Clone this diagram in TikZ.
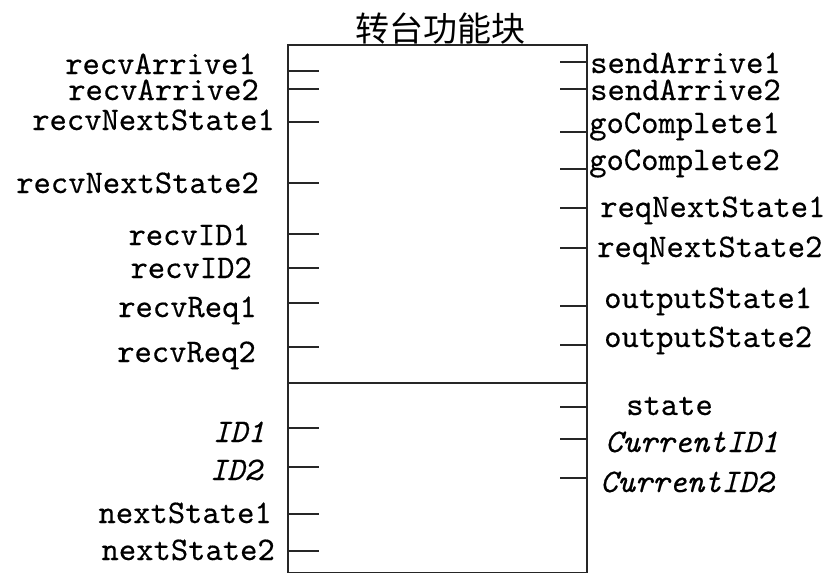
\documentclass[tikz,border=0pt]{standalone}
\usepackage{fontspec}
\newfontfamily\cjkfont{Noto Sans CJK SC}
\newfontfamily\pinfam{lmmono10-regular.otf}[ItalicFont=lmmono10-italic.otf, FakeBold=0.35]
\newcommand\pinfont{\pinfam\fontsize{33pt}{35pt}\selectfont}
\begin{document}
\begin{tikzpicture}[x=1pt,y=-1pt,
  pinlabel/.style={font=\pinfont, inner sep=0pt},
  lpin/.style={pinlabel, anchor=base east},
  rpin/.style={pinlabel, anchor=base west},
  boxline/.style={line width=1.8pt, draw=black!85},
  tick/.style={line width=1.7pt, draw=black!85}]
\useasboundingbox (0,0) rectangle (834,574);
% block
\coordinate (tl) at (288,45);
\coordinate (br) at (587,572.5);
\draw[boxline] (tl) rectangle (br);
\coordinate (dl) at (288,383);
\coordinate (dr) at (587,383);
\draw[boxline] (dl) -- (dr);
\node[font=\cjkfont\fontsize{34pt}{36pt}\selectfont, inner sep=0pt, anchor=base] (title) at (440,41) {转台功能块};
% left inputs
\foreach \nm/\txt/\bx/\by/\ty in {
  la1/recvArrive1/256/74/71,
  la2/recvArrive2/259/100/89,
  ln1/recvNextState1/275/130/122,
  ln2/recvNextState2/259/193/183,
  li1/recvID1/250/245/234,
  li2/recvID2/252/278/268,
  lr1/recvReq1/257/317/303,
  lr2/recvReq2/256/362/347,
  ns1/nextState1/272/523/514,
  ns2/nextState2/275/560/551}{
  \node[lpin] (\nm) at (\bx,\by) {\txt};
  \coordinate (\nm a) at (288,\ty);
  \coordinate (\nm b) at (319,\ty);
  \draw[tick] (\nm a) -- (\nm b);
}
\foreach \nm/\txt/\bx/\by/\ty in {
  id1/ID1/265/442/428,
  id2/ID2/262/480/467}{
  \node[lpin, font=\pinfont\itshape] (\nm) at (\bx,\by) {\txt};
  \coordinate (\nm a) at (288,\ty);
  \coordinate (\nm b) at (319,\ty);
  \draw[tick] (\nm a) -- (\nm b);
}
% right outputs
\foreach \nm/\txt/\bx/\by/\ty in {
  sa1/sendArrive1/590/73/62,
  sa2/sendArrive2/590/100/89,
  gc1/goComplete1/589/133/132,
  gc2/goComplete2/589/170/169,
  rn1/reqNextState1/600/217/208,
  rn2/reqNextState2/597/257/248,
  os1/outputState1/604/308/306,
  os2/outputState2/604/347/345,
  st/state/626/415/407}{
  \node[rpin] (\nm) at (\bx,\by) {\txt};
  \coordinate (\nm a) at (560,\ty);
  \coordinate (\nm b) at (587,\ty);
  \draw[tick] (\nm a) -- (\nm b);
}
\foreach \nm/\txt/\bx/\by/\ty in {
  ci1/CurrentID1/605/452/439,
  ci2/CurrentID2/600/492/478}{
  \node[rpin, font=\pinfont\itshape] (\nm) at (\bx,\by) {\txt};
  \coordinate (\nm a) at (560,\ty);
  \coordinate (\nm b) at (587,\ty);
  \draw[tick] (\nm a) -- (\nm b);
}
\end{tikzpicture}
\end{document}
